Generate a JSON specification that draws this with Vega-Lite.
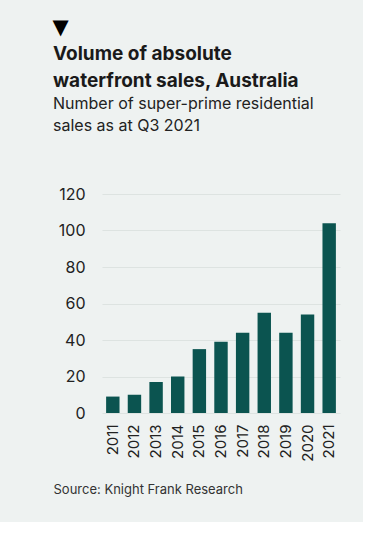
{
  "$schema": "https://vega.github.io/schema/vega-lite/v6.json",
  "width": 238,
  "height": 219,
  "autosize": {"type": "none"},
  "padding": {"left": 102, "top": 194, "right": 23, "bottom": 109},
  "background": "#eef2f1",
  "title": {
    "text": ["Volume of absolute", "waterfront sales, Australia"],
    "subtitle": ["Number of super-prime residential", "sales as at Q3 2021"],
    "anchor": "start",
    "frame": "group",
    "dx": -49,
    "offset": -118,
    "font": "Inter",
    "fontSize": 19,
    "fontWeight": "bold",
    "color": "#1a1a1a",
    "lineHeight": 27,
    "subtitleFont": "Inter",
    "subtitleFontSize": 16,
    "subtitleColor": "#222222",
    "subtitleLineHeight": 22,
    "subtitlePadding": 5
  },
  "data": {
    "values": [
      {"year": "2011", "sales": 9},
      {"year": "2012", "sales": 10},
      {"year": "2013", "sales": 17},
      {"year": "2014", "sales": 20},
      {"year": "2015", "sales": 35},
      {"year": "2016", "sales": 39},
      {"year": "2017", "sales": 44},
      {"year": "2018", "sales": 55},
      {"year": "2019", "sales": 44},
      {"year": "2020", "sales": 54},
      {"year": "2021", "sales": 104}
    ]
  },
  "mark": {"type": "bar", "color": "#0b5450"},
  "encoding": {
    "x": {
      "field": "year",
      "type": "ordinal",
      "scale": {"paddingInner": 0.38, "paddingOuter": 0.19},
      "axis": {
        "title": "Source: Knight Frank Research",
        "labelAngle": -90,
        "labelFont": "Inter",
        "labelFontSize": 15,
        "labelColor": "#222222",
        "labelPadding": 11,
        "ticks": false,
        "domain": false,
        "titleFont": "Inter",
        "titleFontSize": 13,
        "titleFontWeight": "normal",
        "titleColor": "#333333",
        "titleAnchor": "start",
        "titleAlign": "left",
        "titleX": -49,
        "titleY": 76,
        "titleBaseline": "middle"
      }
    },
    "y": {
      "field": "sales",
      "type": "quantitative",
      "scale": {"domain": [0, 120]},
      "axis": {
        "values": [0, 20, 40, 60, 80, 100, 120],
        "labelFont": "Inter",
        "labelFontSize": 16,
        "labelColor": "#222222",
        "labelPadding": 17,
        "ticks": false,
        "domain": false,
        "gridColor": "#dde3e1",
        "gridWidth": 1,
        "title": "▼",
        "titleAngle": 0,
        "titleX": -50,
        "titleY": -178,
        "titleAlign": "left",
        "titleBaseline": "top",
        "titleFont": "DejaVu Sans",
        "titleFontSize": 21,
        "titleFontWeight": "normal",
        "titleColor": "#000000"
      }
    }
  },
  "config": {"view": {"stroke": null}}
}
